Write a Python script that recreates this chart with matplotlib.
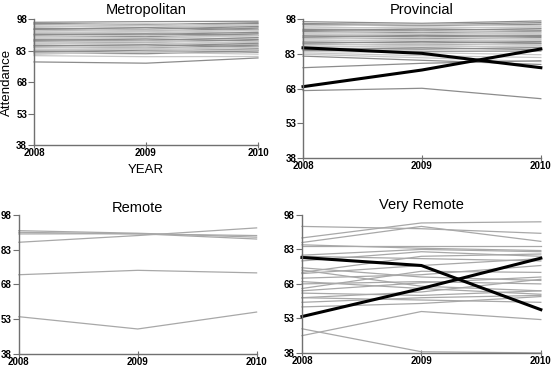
import matplotlib.pyplot as plt
import numpy as np

plt.rcParams['font.family'] = ['Liberation Sans', 'DejaVu Sans']

years = [2008, 2009, 2010]
yticks = [38, 53, 68, 83, 98]

# attendance per school: (2008, 2009, 2010)
metro = [
    [96.5, 96.8, 97.0], [96.0, 95.4, 96.3], [95.5, 95.1, 95.9], [95.1, 95.8, 94.8],
    [94.5, 94.1, 95.4], [94.2, 94.9, 94.1], [93.6, 93.2, 94.5], [93.1, 94.0, 93.0],
    [92.9, 92.3, 93.7], [92.2, 92.8, 92.3], [91.8, 91.4, 92.8], [91.5, 92.1, 91.2],
    [90.9, 90.7, 91.7], [90.6, 91.0, 90.3], [90.0, 89.6, 91.0], [89.7, 90.3, 89.4],
    [89.1, 88.9, 90.1], [88.8, 89.2, 88.5], [88.2, 87.8, 89.2], [87.9, 88.5, 87.6],
    [87.3, 86.9, 88.3], [87.0, 87.6, 86.7], [86.4, 86.0, 87.4], [86.1, 86.7, 85.8],
    [85.5, 85.1, 86.5], [85.2, 85.8, 84.9], [84.6, 84.2, 85.6], [84.3, 84.9, 84.0],
    [83.7, 83.3, 84.7], [83.4, 84.0, 83.1], [82.8, 82.4, 83.8], [82.5, 83.1, 82.2],
    [81.9, 81.5, 82.9], [81.6, 82.2, 81.3], [81.2, 82.7, 83.3], [80.6, 80.1, 80.2],
    [77.6, 77.0, 79.5],
]
prov = [
    [96.9, 96.2, 97.2], [96.1, 95.6, 96.5], [95.6, 95.1, 95.8], [95.0, 95.7, 95.1],
    [94.6, 94.0, 94.7], [94.0, 94.6, 94.2], [93.5, 93.1, 93.9], [93.1, 93.7, 93.2],
    [92.6, 92.2, 92.8], [92.1, 92.8, 92.2], [91.7, 91.3, 91.9], [91.2, 91.9, 91.3],
    [90.8, 90.4, 90.9], [90.3, 91.0, 90.5], [89.9, 89.5, 90.0], [89.4, 90.1, 89.5],
    [89.0, 88.6, 89.1], [88.5, 89.2, 88.6], [88.1, 87.7, 88.3], [87.6, 88.3, 87.7],
    [87.2, 86.8, 87.4], [86.7, 87.4, 86.8], [86.3, 85.9, 86.5], [85.8, 86.5, 85.9],
    [85.4, 85.0, 85.7], [84.9, 85.6, 84.8], [84.5, 84.1, 84.2], [84.0, 83.5, 82.6],
    [83.4, 82.2, 81.4], [82.8, 81.3, 79.6], [82.0, 80.2, 78.4], [77.0, 78.9, 80.0],
    [67.1, 68.1, 63.6],
]
prov_bold = [[85.6, 83.2, 77.0], [68.8, 76.0, 85.1]]
remote = [
    [91.2, 90.1, 88.4], [90.5, 89.8, 89.1], [89.8, 89.9, 87.6], [86.2, 89.1, 92.4],
    [72.2, 74.1, 73.0], [54.1, 48.8, 56.1],
]
vremote = [
    [93.0, 92.0, 90.0], [88.0, 94.5, 95.0], [86.0, 93.0, 86.5], [84.5, 84.5, 84.5],
    [80.5, 83.0, 82.0], [78.0, 82.0, 80.0], [73.0, 80.0, 81.0], [72.5, 76.0, 79.0],
    [70.5, 72.0, 76.0], [68.0, 69.0, 68.0], [66.0, 73.5, 73.0], [65.0, 68.5, 71.0],
    [64.0, 63.0, 65.0], [62.0, 64.5, 70.0], [60.0, 62.0, 63.0], [58.0, 59.5, 62.5],
    [48.5, 38.5, 38.0], [45.5, 56.0, 52.5], [74.0, 67.0, 65.0], [80.0, 79.0, 78.0],
    [85.0, 83.5, 82.5], [69.0, 66.0, 63.5], [75.0, 71.0, 69.5], [62.0, 61.0, 60.0],
]
vremote_bold = [[79.5, 76.0, 56.8], [53.8, 66.0, 79.2]]

fig = plt.figure(figsize=(5.53, 3.68), dpi=100)
ax1 = fig.add_axes([0.0615, 0.606, 0.405, 0.342])
ax2 = fig.add_axes([0.548, 0.571, 0.430, 0.377])
ax3 = fig.add_axes([0.034, 0.038, 0.430, 0.378])
ax4 = fig.add_axes([0.546, 0.041, 0.432, 0.375])

# last item: dense panel (two grey shades) or not
panels = [(ax1, 'Metropolitan', metro, [], 4, True),
          (ax2, 'Provincial', prov, prov_bold, 4, True),
          (ax3, 'Remote', remote, [], 0.5, False),
          (ax4, 'Very Remote', vremote, vremote_bold, 4, False)]

for ax, name, lines, bold, pad, dense in panels:
    for i, v in enumerate(lines):
        if dense:
            col = '#8c8c8c' if (i // 3) % 2 == 0 else '#c8c8c8'
        else:
            col = '#a8a8a8'
        ax.plot(years, v, color=col, lw=0.9, clip_on=False)
    for v in bold:
        ax.plot(years, v, color='black', lw=2.2, clip_on=False)
    ax.set_xlim(2008, 2010)
    ax.set_ylim(38, 98)
    ax.set_xticks(years)
    ax.set_yticks(yticks)
    ax.spines['top'].set_visible(False)
    ax.spines['right'].set_visible(False)
    for s in ['left', 'bottom']:
        ax.spines[s].set_color('#707070')
        ax.spines[s].set_linewidth(1.0)
    ax.tick_params(axis='x', direction='inout', length=5, color='#707070',
                   labelsize=7, pad=0)
    ax.tick_params(axis='y', direction='out', length=4, color='#707070',
                   labelsize=7, pad=1)
    for lab in ax.get_xticklabels() + ax.get_yticklabels():
        lab.set_fontweight('bold')
    ax.set_title(name, fontsize=10.5, pad=pad)

ax1.set_ylabel('Attendance', fontsize=9.5, labelpad=2)
ax1.set_xlabel('YEAR', fontsize=9.5, labelpad=4)

fig.savefig('out.png', dpi=100)
